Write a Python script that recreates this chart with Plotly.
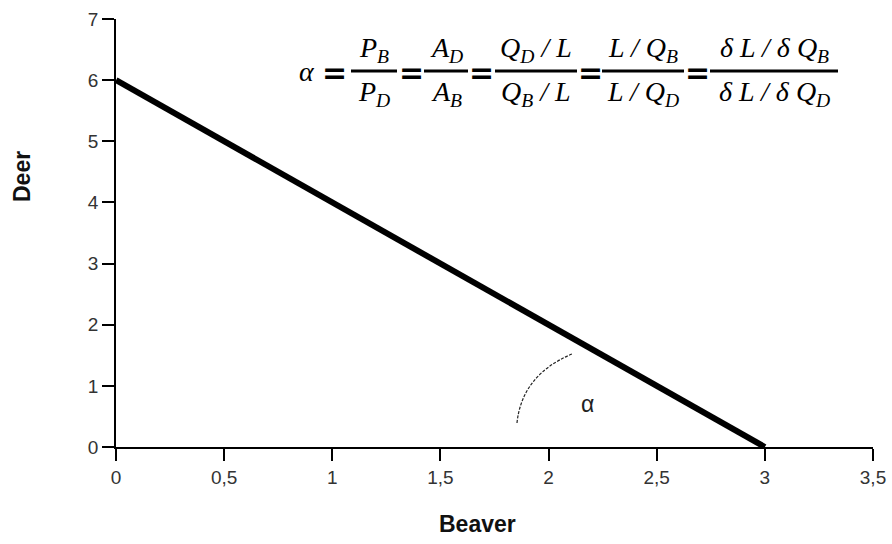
import plotly.graph_objects as go

# Data
beaver = [0, 3]
deer = [6, 0]
x_ticks = [0, 0.5, 1, 1.5, 2, 2.5, 3, 3.5]
x_ticktext = ["0", "0,5", "1", "1,5", "2", "2,5", "3", "3,5"]
y_ticks = [0, 1, 2, 3, 4, 5, 6, 7]
angle_arc = [(1.854, 0.393), (1.877, 1.178), (2.108, 1.521)]  # start, control, end
angle_label = (2.182, 0.71)

numerators = ["P<sub>B</sub>", "A<sub>D</sub>", "Q<sub>D</sub> / L", "L / Q<sub>B</sub>", "δ L / δ Q<sub>B</sub>"]
denominators = ["P<sub>D</sub>", "A<sub>B</sub>", "Q<sub>B</sub> / L", "L / Q<sub>D</sub>", "δ L / δ Q<sub>D</sub>"]

# Plot area in pixels
L, R, T, B = 116, 873, 19, 447
W, H = 892, 544


def px(x):
    return (x - L) / (R - L)


def py(y):
    return (B - y) / (B - T)


fig = go.Figure()
fig.add_trace(go.Scatter(x=beaver, y=deer, mode="lines",
                         line=dict(color="black", width=6), showlegend=False,
                         hoverinfo="skip", cliponaxis=False))

shapes = []
annotations = []

# angle arc
(sx, sy), (cx, cy), (ex, ey) = angle_arc
shapes.append(dict(type="path", xref="x", yref="y",
                   path=f"M {sx},{sy} Q {cx},{cy} {ex},{ey}",
                   line=dict(color="#222", width=1.2, dash="3px,1.5px")))
annotations.append(dict(x=angle_label[0], y=angle_label[1], xref="x", yref="y",
                        text="α", showarrow=False,
                        font=dict(family="Liberation Sans", size=23, color="#222")))

# formula
serif = dict(family="Liberation Serif", size=28, color="black")
bar_spans = [(351, 397), (424, 468), (495, 577), (602, 684), (710, 838)]
eq_centers = [334, 411, 481, 590, 697]
bar_y = 71
annotations.append(dict(x=px(307), y=py(bar_y), xref="paper", yref="paper",
                        text="<i>α</i>", showarrow=False, font=serif,
                        xanchor="center", yanchor="middle"))
for ec in eq_centers:
    annotations.append(dict(x=px(ec), y=py(bar_y + 1), xref="paper", yref="paper",
                            text="<b>=</b>", showarrow=False,
                            font=dict(family="DejaVu Sans", size=30, color="black"),
                            xanchor="center", yanchor="middle"))
for (a, b), num, den in zip(bar_spans, numerators, denominators):
    shapes.append(dict(type="line", xref="paper", yref="paper",
                       x0=px(a), x1=px(b), y0=py(bar_y), y1=py(bar_y),
                       line=dict(color="black", width=3)))
    c = (a + b) / 2
    annotations.append(dict(x=px(c), y=py(bar_y - 2), xref="paper", yref="paper",
                            text=f"<i>{num}</i>", showarrow=False, font=serif,
                            xanchor="center", yanchor="bottom"))
    annotations.append(dict(x=px(c), y=py(bar_y + 3), xref="paper", yref="paper",
                            text=f"<i>{den}</i>", showarrow=False, font=serif,
                            xanchor="center", yanchor="top"))

# axis titles
title_font = dict(family="Liberation Sans", size=23, color="#111")
annotations.append(dict(x=px(22), y=py(177), xref="paper", yref="paper",
                        text="<b>Deer</b>", textangle=-90, showarrow=False,
                        font=title_font, xanchor="center", yanchor="middle"))
annotations.append(dict(x=px(477), y=py(524), xref="paper", yref="paper",
                        text="<b>Beaver</b>", showarrow=False,
                        font=title_font, xanchor="center", yanchor="middle"))

axis_common = dict(showgrid=False, zeroline=False, showline=True, linecolor="black",
                   linewidth=1.5, ticks="outside", ticklen=12, tickwidth=1.5,
                   tickcolor="black", automargin=False,
                   tickfont=dict(family="Liberation Sans", size=19, color="#333"))

fig.update_layout(
    width=W, height=H,
    margin=dict(l=L, r=W - R, t=T, b=H - B, autoexpand=False),
    paper_bgcolor="white", plot_bgcolor="white",
    xaxis=dict(range=[0, 3.5], tickvals=x_ticks, ticktext=x_ticktext, **axis_common),
    yaxis=dict(range=[0, 7], tickvals=y_ticks, **axis_common),
    shapes=shapes, annotations=annotations,
    showlegend=False,
)

fig.write_html("out.html", config={"displayModeBar": False},
               post_script="document.body.style.margin='0';document.body.style.overflow='hidden';")
